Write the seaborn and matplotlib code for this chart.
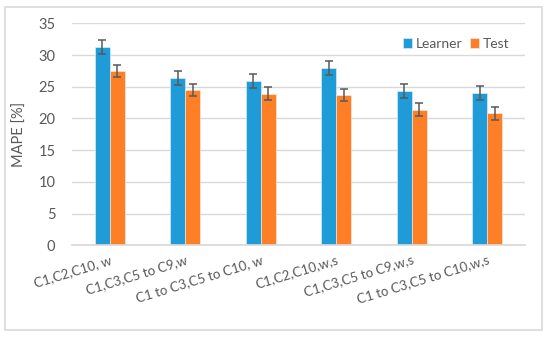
import matplotlib
matplotlib.use("Agg")
import matplotlib.pyplot as plt
import seaborn as sns
import pandas as pd
from matplotlib.patches import Rectangle

categories = ["C1,C2,C10, w", "C1,C3,C5 to C9,w", "C1 to C3,C5 to C10, w",
              "C1,C2,C10,w,s", "C1,C3,C5 to C9,w,s", "C1 to C3,C5 to C10,w,s"]
learner = [31.3, 26.4, 25.9, 28.0, 24.4, 24.0]
test = [27.5, 24.5, 23.9, 23.7, 21.4, 20.8]
learner_err = [1.1, 1.1, 1.1, 1.1, 1.1, 1.1]
test_err = [1.0, 1.0, 1.0, 1.0, 1.0, 1.0]
series = ["Learner", "Test"]
yticks = [0, 5, 10, 15, 20, 25, 30, 35]

df = pd.DataFrame({
    "Set": [c for c in categories] * 2,
    "Model": ["Learner"] * len(categories) + ["Test"] * len(categories),
    "MAPE": learner + test,
})

sns.set_theme(style="white")
plt.rcParams['font.family'] = ['Lato', 'DejaVu Sans']
grey = "#595959"

fig = plt.figure(figsize=(5.5, 3.38), dpi=100)
fig.patches.append(Rectangle((0.009, 0.024), 0.976, 0.955, transform=fig.transFigure,
                             fill=False, edgecolor="#D9D9D9", linewidth=1.2))
ax = fig.add_axes([0.131, 0.274, 0.8235, 0.657])

sns.barplot(data=df, x="Set", y="MAPE", hue="Model", hue_order=series,
            palette=["#1F9BD7", "#FF7F27"], saturation=1, width=0.4, errorbar=None,
            edgecolor="#E8F4FB", linewidth=0.4, ax=ax)

# error bars on top of each bar
errs = learner_err + test_err
for p, e in zip(ax.patches[:len(errs)], errs):
    ax.errorbar(p.get_x() + p.get_width() / 2, p.get_height(), yerr=e,
                fmt="none", ecolor=grey, elinewidth=1.1, capsize=3, capthick=1.1)

ax.set_ylim(0, 35)
ax.set_yticks(yticks)
ax.set_xlim(-0.5, len(categories) - 0.5)
ax.yaxis.grid(True, color="#D9D9D9", linewidth=1)
ax.set_axisbelow(True)
for s in ["top", "right", "left"]:
    ax.spines[s].set_visible(False)
ax.spines["bottom"].set_color("#D9D9D9")
ax.tick_params(axis="both", length=0, colors=grey)
ax.tick_params(axis="y", pad=12, labelsize=10.5)
ax.tick_params(axis="x", pad=6, labelsize=9.5)
ax.set_xticks(range(len(categories)))
ax.set_xticklabels(categories, rotation=17, ha="right", rotation_mode="anchor")
ax.set_xlabel("")
ax.set_ylabel("MAPE [%]", color=grey, fontsize=10.5, labelpad=8)

leg = ax.legend(loc="upper right", bbox_to_anchor=(0.99, 0.985), ncol=2, frameon=False,
                fontsize=10, handlelength=0.65, handleheight=0.65, handletextpad=0.25,
                columnspacing=0.6, borderpad=0.3)
for t in leg.get_texts():
    t.set_color(grey)

fig.savefig("out.png", dpi=100)
